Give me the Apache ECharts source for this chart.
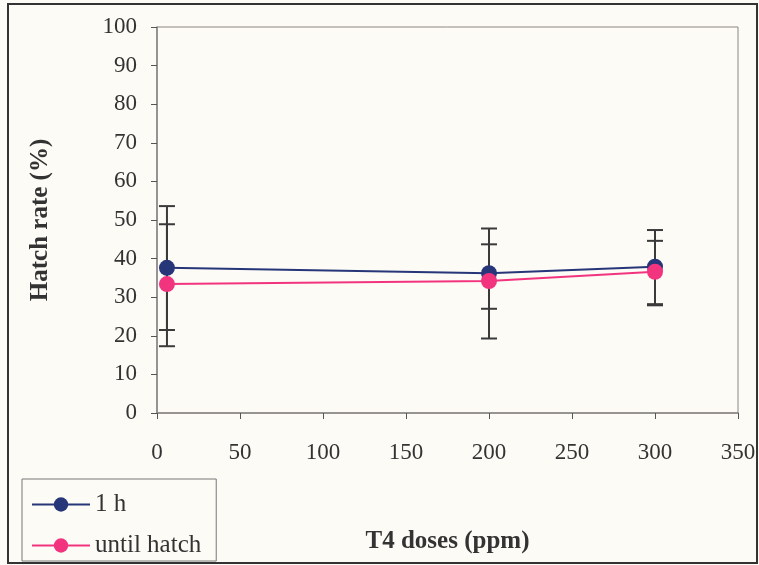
<!DOCTYPE html>
<html>
<head>
<meta charset="utf-8">
<title>Hatch rate</title>
<style>
  html, body { margin: 0; padding: 0; background: #fcfbf6; }
  #main { width: 759px; height: 565px; }
</style>
</head>
<body>
<div id="main"></div>
<script src="https://cdn.jsdelivr.net/npm/echarts@6/dist/echarts.min.js"></script>
<script>
// data
var doses = [6, 200, 300];
var oneHour = [37.6, 36.2, 37.9];
var oneHourLow = [21.5, 19.3, 27.9];
var oneHourHigh = [53.6, 47.8, 47.4];
var untilHatch = [33.4, 34.2, 36.6];
var untilHatchLow = [17.3, 27.0, 28.2];
var untilHatchHigh = [48.9, 43.7, 44.6];
var seriesNames = ['1 h', 'until hatch'];

var blue = '#263678';
var pink = '#f2347f';
var barColor = '#3a3a3a';
var font = '"Liberation Serif", "DejaVu Serif", serif';

function pairs(xs, ys) {
    return xs.map(function (x, i) { return [x, ys[i]]; });
}
function errData(xs, lo, hi) {
    return xs.map(function (x, i) { return [x, lo[i], hi[i]]; });
}

// error bar with caps
function renderErr(params, api) {
    var x = api.value(0);
    var lo = api.coord([x, api.value(1)]);
    var hi = api.coord([x, api.value(2)]);
    var half = 8;
    var st = { stroke: barColor, lineWidth: 2 };
    return {
        type: 'group',
        children: [
            { type: 'line', shape: { x1: lo[0], y1: lo[1], x2: hi[0], y2: hi[1] }, style: st },
            { type: 'line', shape: { x1: lo[0] - half, y1: lo[1], x2: lo[0] + half, y2: lo[1] }, style: st },
            { type: 'line', shape: { x1: hi[0] - half, y1: hi[1], x2: hi[0] + half, y2: hi[1] }, style: st }
        ]
    };
}

var myChart = echarts.init(document.getElementById('main'));
var option = {
    backgroundColor: '#fcfbf6',
    animation: false,
    grid: {
        left: 157,
        right: 21,
        top: 27,
        bottom: 152,
        show: true,
        borderColor: '#8a8585',
        borderWidth: 1
    },
    xAxis: {
        type: 'value',
        min: 0,
        max: 350,
        interval: 50,
        name: 'T4 doses (ppm)',
        nameLocation: 'middle',
        nameGap: 116,
        nameTextStyle: { fontFamily: font, fontSize: 25, fontWeight: 'bold', color: '#333' },
        axisLine: { lineStyle: { color: '#8a8585', width: 1.5 } },
        axisTick: { show: true, inside: false, length: 6, lineStyle: { color: '#555' } },
        axisLabel: { fontFamily: font, fontSize: 23, color: '#333', margin: 28 },
        splitLine: { show: false }
    },
    yAxis: {
        type: 'value',
        min: 0,
        max: 100,
        interval: 10,
        name: 'Hatch rate (%)',
        nameLocation: 'middle',
        nameGap: 104,
        nameTextStyle: { fontFamily: font, fontSize: 25, fontWeight: 'bold', color: '#333' },
        axisLine: { show: true, lineStyle: { color: '#8a8585', width: 1.5 } },
        axisTick: { show: true, inside: false, length: 6, lineStyle: { color: '#555' } },
        axisLabel: { fontFamily: font, fontSize: 23, color: '#333', margin: 20 },
        splitLine: { show: false }
    },
    legend: {
        orient: 'vertical',
        left: 22,
        top: 479,
        padding: [13, 15, 3, 9],
        itemGap: 16,
        itemWidth: 58,
        itemHeight: 18,
        borderColor: '#777',
        borderWidth: 1,
        backgroundColor: '#fcfbf6',
        textStyle: { fontFamily: font, fontSize: 25, color: '#333' },
        data: seriesNames
    },
    graphic: [{
        type: 'rect',
        shape: { x: 8, y: 4, width: 749, height: 559 },
        style: { fill: 'none', stroke: '#333', lineWidth: 2 },
        silent: true
    }],
    series: [
        {
            type: 'custom',
            renderItem: renderErr,
            data: errData(doses, oneHourLow, oneHourHigh),
            z: 1
        },
        {
            type: 'custom',
            renderItem: renderErr,
            data: errData(doses, untilHatchLow, untilHatchHigh),
            z: 1
        },
        {
            name: seriesNames[0],
            type: 'line',
            data: pairs(doses, oneHour),
            symbol: 'circle',
            symbolSize: 16,
            color: blue,
            lineStyle: { color: blue, width: 2 },
            itemStyle: { color: blue },
            z: 3
        },
        {
            name: seriesNames[1],
            type: 'line',
            data: pairs(doses, untilHatch),
            symbol: 'circle',
            symbolSize: 16,
            color: pink,
            lineStyle: { color: pink, width: 2 },
            itemStyle: { color: pink },
            z: 4
        }
    ]
};
myChart.setOption(option);
</script>
</body>
</html>
